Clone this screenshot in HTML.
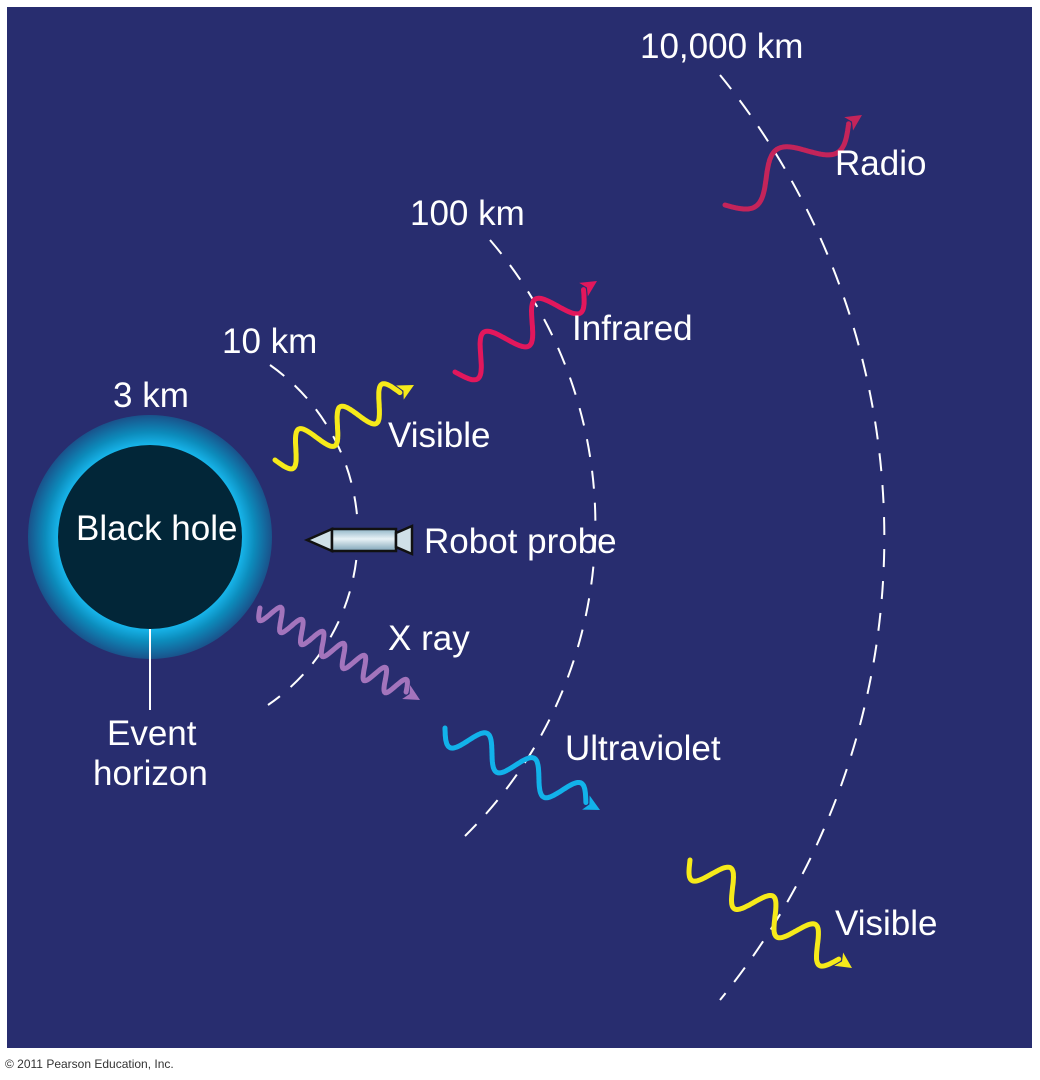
<!DOCTYPE html>
<html><head><meta charset="utf-8"><style>
html,body{margin:0;padding:0;background:#fff;width:1040px;height:1080px;overflow:hidden}
svg{display:block}
text{font-family:"Liberation Sans",sans-serif;fill:#fff;font-size:35px}
</style></head><body>
<svg id="s" width="1040" height="1080" viewBox="0 0 1040 1080" xmlns="http://www.w3.org/2000/svg">
<defs>
<radialGradient id="glow" cx="150" cy="537" r="123" gradientUnits="userSpaceOnUse">
<stop offset="0.74" stop-color="#18b8ee"/>
<stop offset="0.85" stop-color="#0c8cbc"/>
<stop offset="1" stop-color="#1a4f88"/>
</radialGradient>
<linearGradient id="body" x1="0" y1="0" x2="0" y2="1">
<stop offset="0" stop-color="#8fb4c6"/><stop offset="0.45" stop-color="#e8f2f6"/><stop offset="1" stop-color="#7ea4b8"/>
</linearGradient>
</defs>
<rect x="7" y="7" width="1025" height="1041" fill="#282d6f"/>
<g fill="none" stroke="#fff" stroke-width="2" stroke-dasharray="18 14">
<path d="M270,365 A207,207 0 0 1 268,705"/>
<path d="M490,240 A437,437 0 0 1 465,836"/>
<path d="M720,75 A733,733 0 0 1 720,1000"/>
</g>
<circle cx="150" cy="537" r="122" fill="url(#glow)"/>
<circle cx="150" cy="537" r="92" fill="#022638"/>
<line x1="150" y1="629" x2="150" y2="710" stroke="#fff" stroke-width="2"/>
<g id="waves"></g>
<g stroke="#111" stroke-width="2.5">
<polygon points="307,540 332,529 332,551" fill="#cfe0e8"/>
<rect x="332" y="529" width="64" height="22" fill="url(#body)"/>
<polygon points="396,533 412,526 412,554 396,547" fill="#cfe0e8"/>
</g>
<text x="640" y="58">10,000 km</text>
<text x="835" y="175">Radio</text>
<text x="410" y="225">100 km</text>
<text x="572" y="340">Infrared</text>
<text x="222" y="353">10 km</text>
<text x="113" y="407">3 km</text>
<text x="388" y="447">Visible</text>
<text x="76" y="540">Black hole</text>
<text x="424" y="553">Robot probe</text>
<text x="388" y="650">X ray</text>
<text x="107" y="745">Event</text>
<text x="93" y="785">horizon</text>
<text x="565" y="760">Ultraviolet</text>
<text x="835" y="935">Visible</text>
<text x="5" y="1068" style="font-size:12px;fill:#333">© 2011 Pearson Education, Inc.</text>
</svg>
<script>
function wave(x0,y0,x1,y1,amp,per,col,w){
 var dx=x1-x0,dy=y1-y0,L=Math.hypot(dx,dy),ux=dx/L,uy=dy/L,nx=-uy,ny=ux;
 var ah=16,Ls=L-ah,d="";
 for(var i=0;i<=200;i++){var t=i/200*Ls;var a=amp*Math.sin(t/Ls*per*2*Math.PI);
  var x=x0+ux*t+nx*a,y=y0+uy*t+ny*a;d+=(i?"L":"M")+x.toFixed(1)+","+y.toFixed(1);}
 var g=document.getElementById("waves"),ns="http://www.w3.org/2000/svg";
 var p=document.createElementNS(ns,"path");p.setAttribute("d",d);p.setAttribute("fill","none");p.setAttribute("stroke",col);p.setAttribute("stroke-width",w);p.setAttribute("stroke-linecap","round");g.appendChild(p);
 var bx=x0+ux*Ls,by=y0+uy*Ls,pg=document.createElementNS(ns,"polygon");
 pg.setAttribute("points",x1+","+y1+" "+(bx+nx*8)+","+(by+ny*8)+" "+(bx+ux*4)+","+(by+uy*4)+" "+(bx-nx*8)+","+(by-ny*8));
 pg.setAttribute("fill",col);g.appendChild(pg);
}
wave(275,460,414,385,16,3,"#f6ea1a",5);
wave(455,372,597,281,18,2.5,"#e2175c",5);
wave(725,205,862,115,18,1.5,"#c4245a",5);
wave(260,608,420,700,11,7,"#a374bc",5);
wave(445,728,600,810,15,3,"#12b2ea",5);
wave(690,860,852,968,16,3.5,"#f6ea1a",5);
</script>
</body></html>
